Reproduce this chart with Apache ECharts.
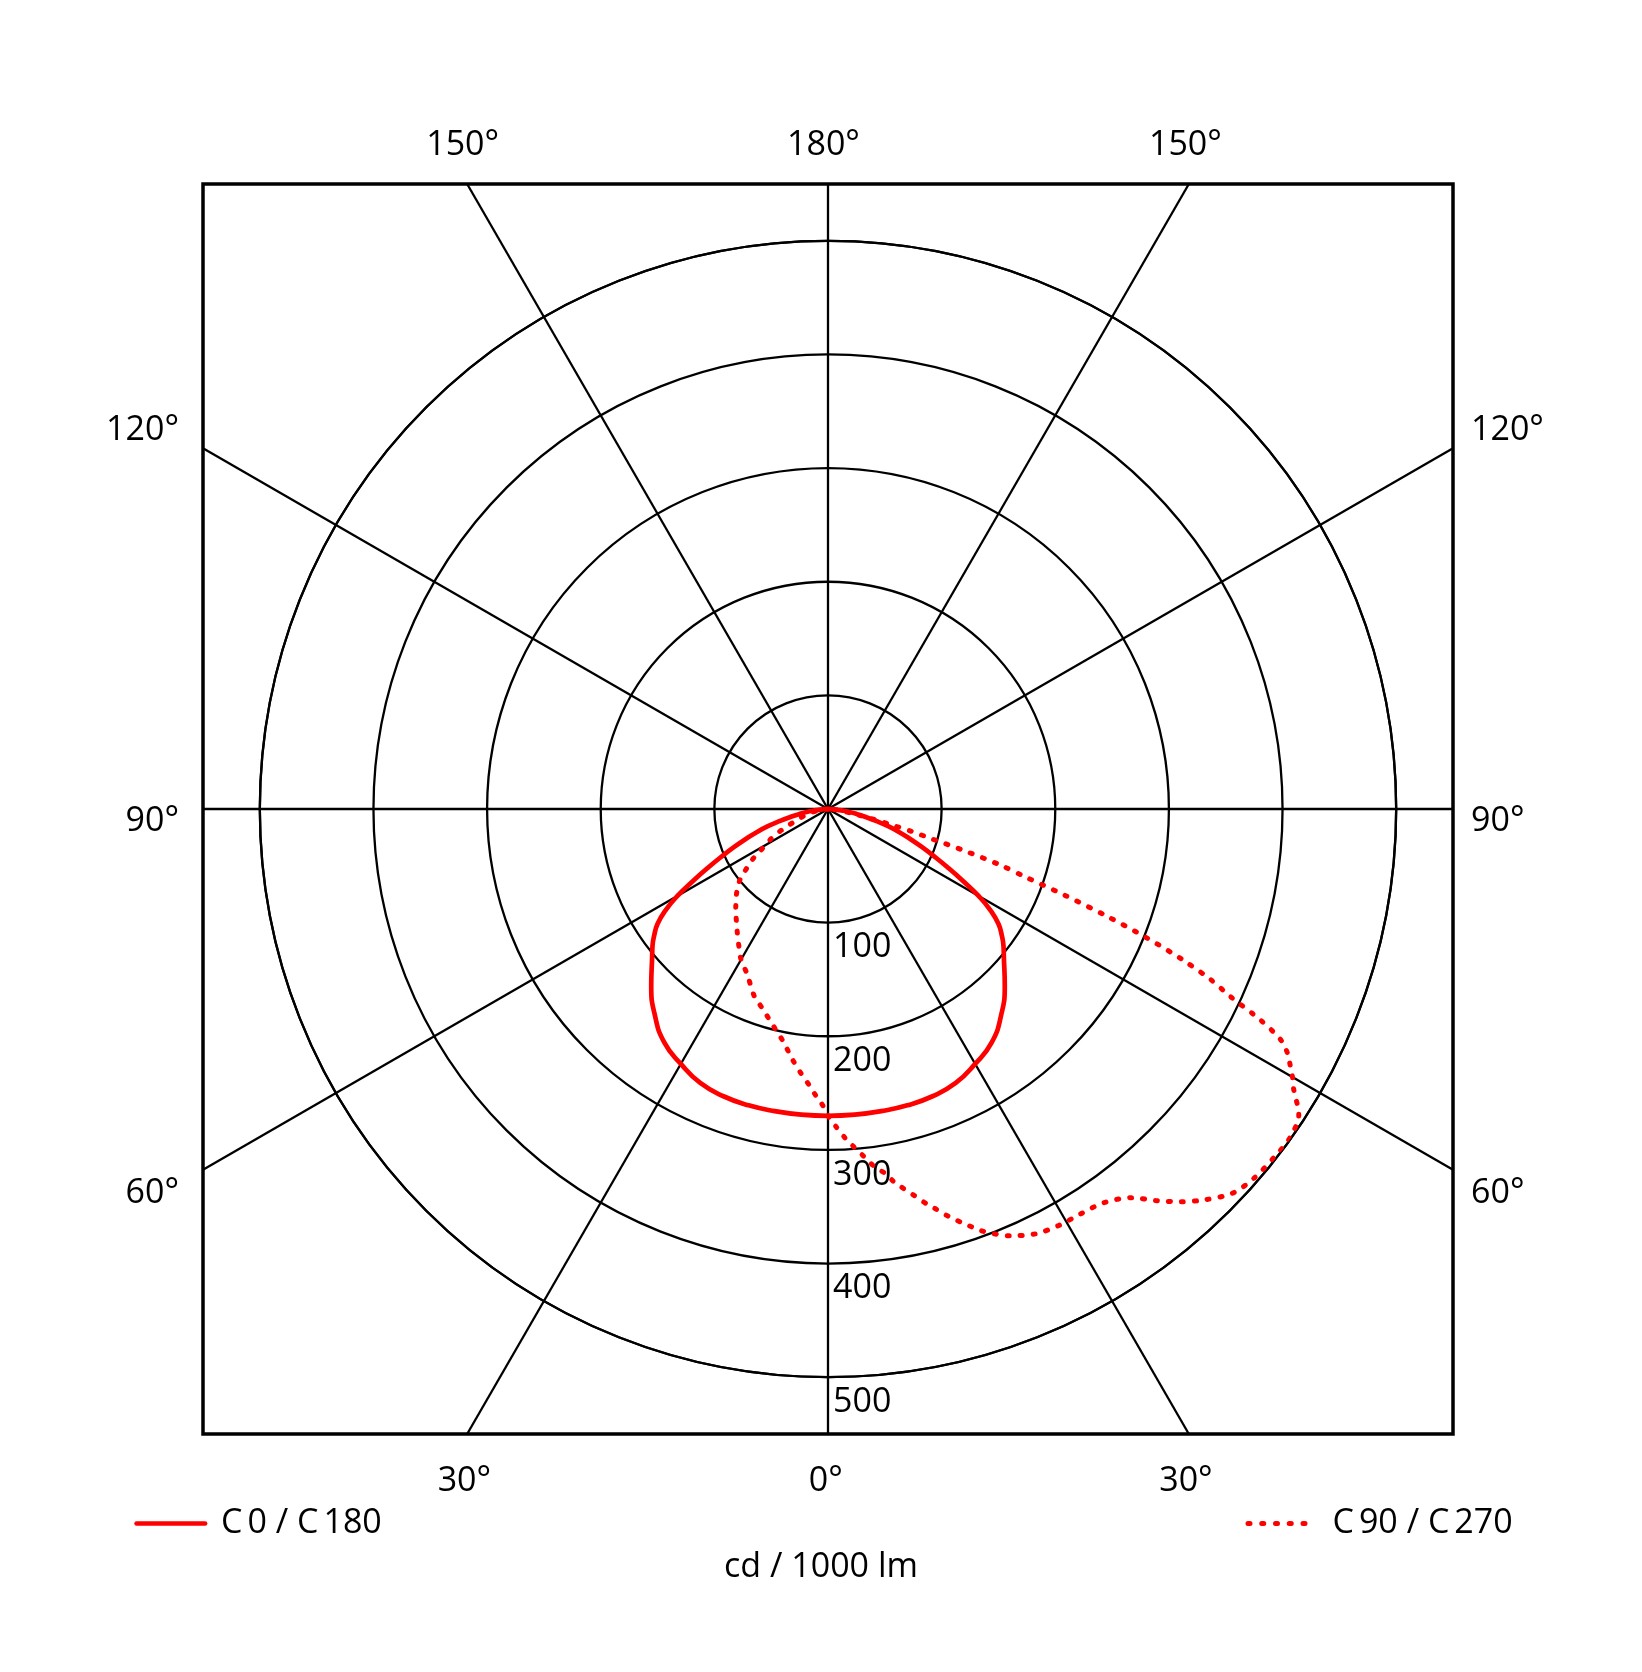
<!DOCTYPE html>
<html>
<head>
<meta charset="utf-8">
<script src="https://cdn.jsdelivr.net/npm/echarts@6/dist/echarts.min.js"></script>
<style>
html,body{margin:0;padding:0;background:#fff;}
#chart{width:1642px;height:1672px;}
</style>
</head>
<body>
<div id="chart"></div>
<script>
// ---------- DATA (angle from nadir in degrees, intensity in cd / 1000 lm) ----------
const c0Angles   = [0, 5, 10, 15, 20, 25, 30, 35, 40, 45, 50, 52, 54, 56, 58, 60, 62, 64, 66, 68, 70, 72, 74, 76, 78, 80, 82, 84, 86, 88, 90];
const c0Values   = [270, 270, 270, 270, 269, 266, 259, 251, 237, 220, 202, 196, 189, 181, 169, 153, 134, 117, 102, 89, 77, 66, 55, 44, 34, 26, 19, 12, 7, 3, 0];
const c180Angles = [0, 5, 10, 15, 20, 25, 30, 35, 40, 45, 50, 52, 54, 56, 58, 60, 62, 64, 66, 68, 70, 72, 74, 76, 78, 80, 82, 84, 86, 88, 90];
const c180Values = [270, 270, 270, 270, 269, 266, 259, 251, 237, 220, 202, 196, 189, 181, 169, 153, 134, 117, 102, 89, 77, 66, 55, 44, 34, 26, 19, 12, 7, 3, 0];

const c90Angles  = [0, 1.5, 3, 4.5, 6, 7.5, 9, 10, 11, 12.5, 14, 15, 16.5, 18, 19, 20, 21.5, 23, 26, 29, 32, 35, 38, 40, 42, 44, 46.5, 49, 52, 54.5, 57, 59, 60, 61, 62, 63, 64, 65, 66, 67, 68, 69, 70, 71, 72, 73, 74, 75, 76, 77, 78, 79, 80, 82, 84, 87, 90];
const c90Values  = [270, 280, 290, 299, 308, 318, 325, 333, 339, 348, 358, 364, 374, 383, 389, 395, 402, 408, 416, 419, 420, 423, 434, 450, 465, 478, 491, 496, 498, 499, 494, 478, 472, 465, 458, 447, 423, 391, 368, 338, 302, 262, 221, 184, 159, 125, 94, 76, 57, 44, 35, 26, 20, 14, 10, 4, 0];
const c270Angles = [0, 1, 2.5, 4, 6, 8, 11, 13.5, 16, 18.5, 21.5, 26, 30, 33, 37, 43, 47.5, 51, 53, 56, 58, 62, 65, 68, 72, 77.5, 81, 90];
const c270Values = [270, 261, 252, 243, 233, 223, 208, 199, 191, 184, 177, 162, 153, 144, 133, 119, 109, 100, 92, 81, 71, 58, 47, 36, 26, 16.5, 7.5, 0];

const radiusTicks       = [100, 200, 300, 400, 500];
const spokeAngles       = [0, 30, 60, 90, 120, 150, 180, 210, 240, 270, 300, 330];
const topAngleLabels    = ['150°', '180°', '150°'];
const bottomAngleLabels = ['30°', '0°', '30°'];
const sideAngleLabels   = ['120°', '90°', '60°'];
const seriesNames       = ['C0 / C180', 'C90 / C270'];
const unitLabel         = 'cd / 1000 lm';

// ---------- LAYOUT ----------
const FONT = "'Open Sans', 'Noto Sans', sans-serif";
const HALF = 550;                 // frame half-size in cd/klm
const GRID = {left: 203, top: 184, width: 1250, height: 1250};
const CENTER = [GRID.left + GRID.width / 2, GRID.top + GRID.height / 2];
const PX_PER_UNIT = GRID.width / (2 * HALF);
const RMAX = 500;
const LABEL_DROP = 22;            // radius labels sit just below their circle
const topLabelPos    = [-321.5, -4, 314.5];
const bottomLabelPos = [-320, -2, 315];
const sideLabelPos   = [333, -10.6, -338.4];
const RED = '#ff0000';
const GRID_LINE = 2.3;

function lookup(pos, texts) {
  return function (v) {
    for (let i = 0; i < pos.length; i++) if (Math.abs(pos[i] - v) < 0.01) return texts[i];
    return '';
  };
}

// join the left half-plane (negative angles) and right half-plane into one path
function polarPath(leftA, leftV, rightA, rightV) {
  const pts = [];
  for (let i = leftA.length - 1; i >= 0; i--) pts.push([leftV[i], -leftA[i]]);
  for (let i = 1; i < rightA.length; i++) pts.push([rightV[i], rightA[i]]);
  return pts;
}

// legend text: a little extra air after each "C", as in the original artwork
function legendFormatter(name) {
  return name.split(' / ').map(function (part) {
    return '{c|' + part.charAt(0) + '}{t|' + part.slice(1) + '}';
  }).join('{t| / }');
}

const spokeData = spokeAngles.map(function (a) {
  const r = a * Math.PI / 180, s = Math.sin(r), c = Math.cos(r);
  const t = HALF / Math.max(Math.abs(s), Math.abs(c));
  return {coords: [[0, 0], [t * s, -t * c]]};
});

const textBase = {fontFamily: FONT, fontSize: 34, color: '#000'};
const hiddenAxis = {axisLine: {show: false}, axisTick: {show: false}, splitLine: {show: false}};
const legendText = Object.assign({}, textBase, {
  rich: {
    c: {fontFamily: FONT, fontSize: 34, color: '#000', padding: [0, 5, 0, 0]},
    t: {fontFamily: FONT, fontSize: 34, color: '#000'}
  }
});

const chart = echarts.init(document.getElementById('chart'), null, {renderer: 'canvas'});
chart.setOption({
  backgroundColor: '#ffffff',
  animation: false,
  title: {
    text: unitLabel, left: 'center', top: 1545,
    textStyle: Object.assign({}, textBase, {fontWeight: 'normal'})
  },
  legend: [
    {
      data: [seriesNames[0]], left: 134.3, top: 1506.5, padding: 0,
      itemWidth: 68.4, itemHeight: 20, selectedMode: false,
      formatter: legendFormatter,
      lineStyle: {width: 4.7, cap: 'round', color: RED},
      itemStyle: {color: 'rgba(0,0,0,0)', borderColor: 'rgba(0,0,0,0)', borderWidth: 0, opacity: 0},
      textStyle: Object.assign({}, legendText, {padding: [0, 0, 0, 11]})
    },
    {
      data: [seriesNames[1]], left: 1245.5, top: 1506.5, padding: 0,
      itemWidth: 57, itemHeight: 20, selectedMode: false,
      formatter: legendFormatter,
      lineStyle: {width: 5, cap: 'round', type: [2, 11.75], color: RED},
      itemStyle: {color: 'rgba(0,0,0,0)', borderColor: 'rgba(0,0,0,0)', borderWidth: 0, opacity: 0},
      textStyle: Object.assign({}, legendText, {padding: [0, 0, 0, 22.5]})
    }
  ],
  grid: Object.assign({show: true, borderColor: '#000', borderWidth: 3.5, backgroundColor: 'transparent', outerBoundsMode: 'none', containLabel: false}, GRID),
  xAxis: [
    Object.assign({type: 'value', min: -HALF, max: HALF, position: 'bottom',
      axisLabel: Object.assign({customValues: bottomLabelPos, formatter: lookup(bottomLabelPos, bottomAngleLabels), margin: 30}, textBase)}, hiddenAxis),
    Object.assign({type: 'value', min: -HALF, max: HALF, position: 'top',
      axisLabel: Object.assign({customValues: topLabelPos, formatter: lookup(topLabelPos, topAngleLabels), margin: 22}, textBase)}, hiddenAxis)
  ],
  yAxis: [
    Object.assign({type: 'value', min: -HALF, max: HALF, position: 'left',
      axisLabel: Object.assign({customValues: sideLabelPos, formatter: lookup(sideLabelPos, sideAngleLabels), margin: 24}, textBase)}, hiddenAxis),
    Object.assign({type: 'value', min: -HALF, max: HALF, position: 'right',
      axisLabel: Object.assign({customValues: sideLabelPos, formatter: lookup(sideLabelPos, sideAngleLabels), margin: 18}, textBase)}, hiddenAxis),
    Object.assign({type: 'value', min: -HALF, max: HALF, position: 'left', offset: -GRID.width / 2,
      axisLabel: Object.assign({customValues: radiusTicks.map(function (v) { return -(v + LABEL_DROP); }),
        formatter: function (v) { return String(Math.round(-v - LABEL_DROP)); },
        inside: true, margin: 5}, textBase)}, hiddenAxis)
  ],
  polar: {center: CENTER, radius: RMAX * PX_PER_UNIT},
  angleAxis: {
    type: 'value', min: -180, max: 180, startAngle: 90, clockwise: false,
    axisLine: {show: true, lineStyle: {color: '#000', width: GRID_LINE}},
    axisTick: {show: false}, axisLabel: {show: false}, splitLine: {show: false}
  },
  radiusAxis: {
    type: 'value', min: 0, max: RMAX, interval: 100,
    axisLine: {show: false}, axisTick: {show: false}, axisLabel: {show: false},
    splitLine: {show: true, lineStyle: {color: '#000', width: GRID_LINE}}
  },
  series: [
    {
      type: 'lines', coordinateSystem: 'cartesian2d', xAxisIndex: 0, yAxisIndex: 0,
      silent: true, z: 2, data: spokeData,
      lineStyle: {color: '#000', width: GRID_LINE, opacity: 1, curveness: 0}
    },
    {
      name: seriesNames[0], type: 'line', coordinateSystem: 'polar', z: 5,
      symbol: 'none', smooth: 0.5, silent: true,
      data: polarPath(c180Angles, c180Values, c0Angles, c0Values),
      lineStyle: {color: RED, width: 4.7, cap: 'round', join: 'round'},
      itemStyle: {color: RED}
    },
    {
      name: seriesNames[1], type: 'line', coordinateSystem: 'polar', z: 6,
      symbol: 'none', smooth: 0.3, silent: true,
      data: polarPath(c270Angles, c270Values, c90Angles, c90Values),
      lineStyle: {color: RED, width: 5, type: [2, 11], cap: 'round', join: 'round'},
      itemStyle: {color: RED}
    }
  ]
});
</script>
</body>
</html>
